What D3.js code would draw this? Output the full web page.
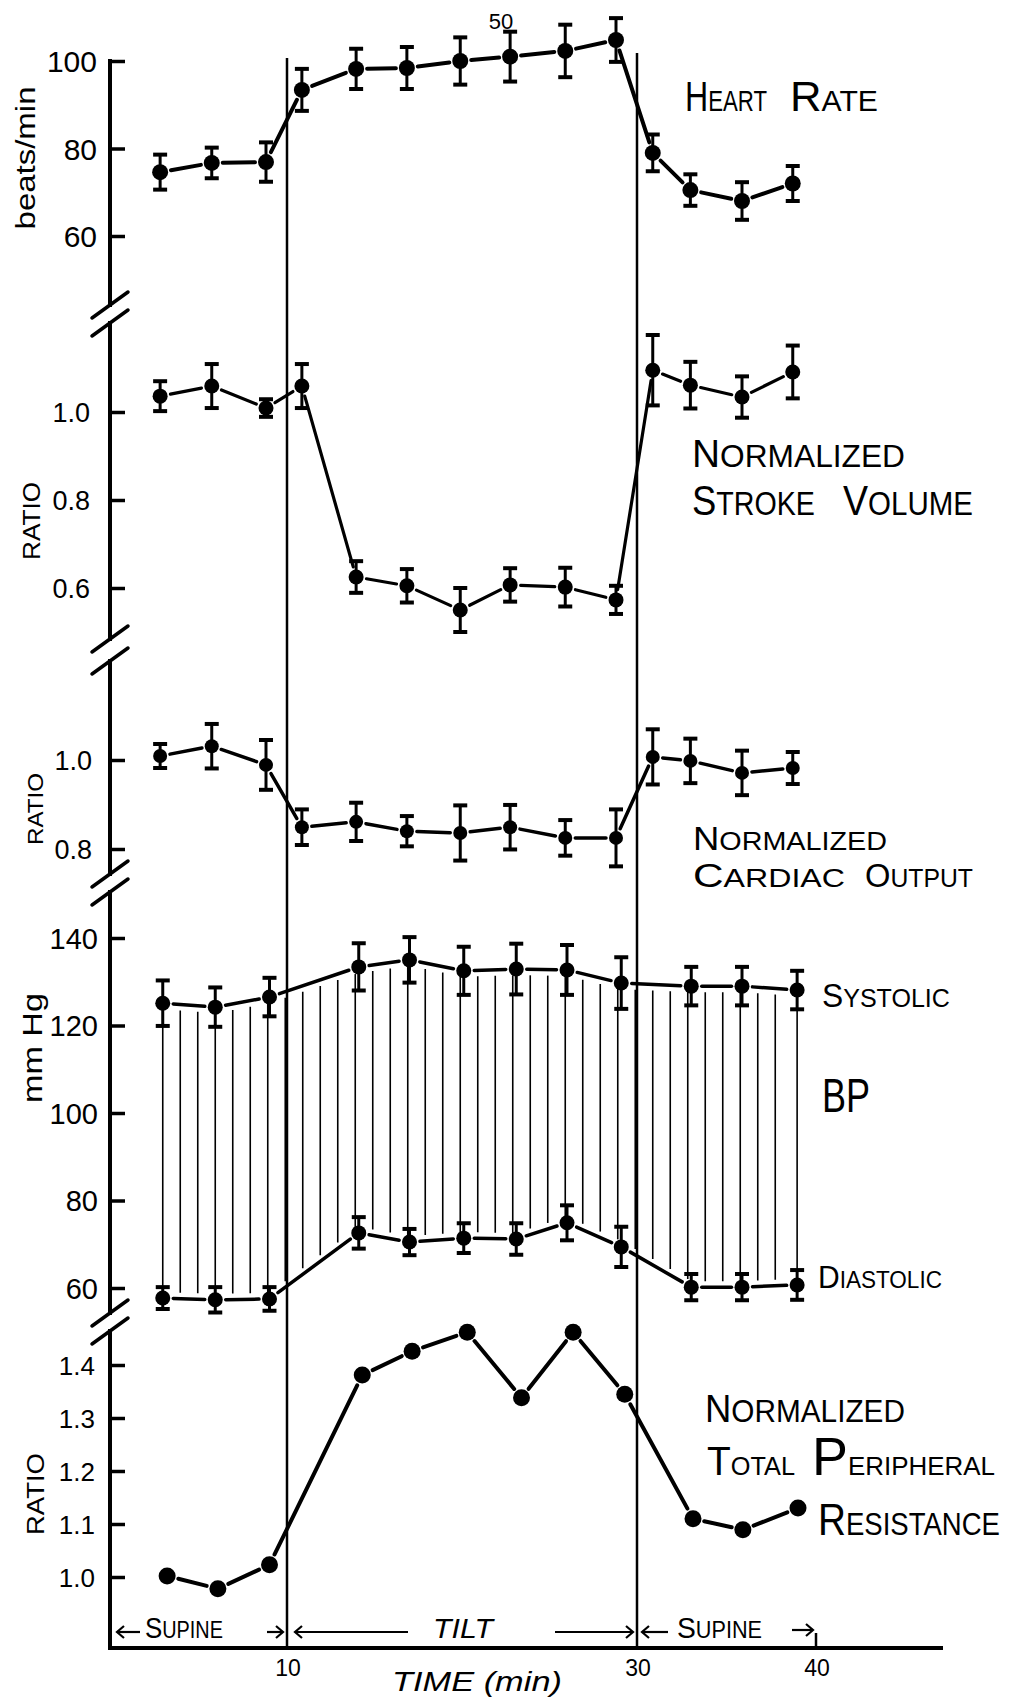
<!DOCTYPE html>
<html><head><meta charset="utf-8">
<script src="https://cdn.jsdelivr.net/npm/d3@7"></script>
<style>body{margin:0;background:#fff}svg{display:block}</style>
</head><body>
<svg id="c" width="1009" height="1697"></svg>
<script>
// ---------- DATA ----------
const timeA = [2.75,5.7,8.8,10.85,13.95,16.85,19.9,22.75,25.9,28.8,30.9,33.05,36.0,38.9];
const timeBP = [2.9,5.9,9.0,14.1,17.0,20.1,23.1,26.0,29.1,33.1,36.0,39.15];
const timeTPR = [3.15,6.05,9.0,14.3,17.15,20.3,23.4,26.35,29.3,33.2,36.05,39.2];

const hrMean = [74.6,76.7,76.9,93.4,98.2,98.4,100,101,102.3,104.8,79,70.5,68,72];
const hrErr  = [4.0,3.5,4.5,4.8,4.6,4.8,5.4,5.7,6.0,5.0,4.2,3.6,4.3,4.0];

const svMean = [1.036,1.059,1.009,1.059,0.625,0.605,0.55,0.607,0.602,0.573,1.095,1.061,1.034,1.091];
const svErr  = [0.034,0.05,0.02,0.05,0.036,0.038,0.05,0.038,0.044,0.032,0.08,0.053,0.047,0.06];

const coMean = [1.009,1.031,0.989,0.849,0.861,0.84,0.836,0.849,0.825,0.825,1.007,0.998,0.971,0.982];
const coErr  = [0.027,0.05,0.056,0.04,0.043,0.034,0.062,0.05,0.04,0.064,0.062,0.05,0.05,0.036];

const sysMean = [125.1,124.2,126.5,133.4,135.0,132.5,132.9,132.7,129.7,129.0,129.0,128.1];
const sysErr  = [5.2,4.5,4.4,5.4,5.2,5.5,5.8,5.7,5.9,4.4,4.4,4.4];
const diaMean = [57.7,57.3,57.5,72.6,70.5,71.4,71.2,74.9,69.4,60.2,60.2,60.7];
const diaErr  = [2.5,2.9,2.7,3.6,3.0,3.4,3.6,4.0,4.6,3.0,3.0,3.4];

const tprMean = [1.002,0.978,1.023,1.381,1.426,1.462,1.338,1.462,1.345,1.11,1.089,1.13];

const hrTicks = [60,80,100];
const svTicks = [0.6,0.8,1.0];
const coTicks = [0.8,1.0];
const bpTicks = [60,80,100,120,140];
const tprTicks = [1.0,1.1,1.2,1.3,1.4];
const xTickLabels = [10,30,40];
const tiltStart = 10, tiltEnd = 30;

// ---------- DRAWING ----------
const FONT = "'Liberation Sans', Arial, sans-serif";
const svg = d3.select('#c');
const x = d3.scaleLinear().domain([10,30]).range([287,637]);
const AX = 110, XAXIS_Y = 1648;

const hrY  = d3.scaleLinear().domain([60,100]).range([236,61]);
const svY  = d3.scaleLinear().domain([0.6,1.0]).range([588,412]);
const coY  = d3.scaleLinear().domain([0.8,1.0]).range([849,760]);
const bpY  = d3.scaleLinear().domain([60,140]).range([1288,938]);
const tprY = d3.scaleLinear().domain([1.0,1.4]).range([1577,1365]);

// breaks between panels
const breaks = [314,650,883,1322];
const brOff = [9,11,9,9];
const segs = [[61,breaks[0]-brOff[0]],[breaks[0]+brOff[0],breaks[1]-brOff[1]],[breaks[1]+brOff[1],breaks[2]-brOff[2]],[breaks[2]+brOff[2],breaks[3]-brOff[3]],[breaks[3]+brOff[3],XAXIS_Y]];
segs.forEach(s=>svg.append('line').attr('x1',AX).attr('x2',AX).attr('y1',s[0]).attr('y2',s[1])
  .attr('stroke','#000').attr('stroke-width',4).attr('stroke-linecap','square'));
breaks.forEach((b,i)=>{
  [-brOff[i],brOff[i]].forEach(o=>{
    svg.append('line').attr('x1',AX-18).attr('y1',b+o+13).attr('x2',AX+18).attr('y2',b+o-13)
      .attr('stroke','#000').attr('stroke-width',3.5).attr('stroke-linecap','round');
  });
});

// y axes (ticks inside, labels left)
function yAxis(scale, ticks, fmt, fs, pad){
  const g = svg.append('g').attr('transform',`translate(${AX},0)`)
    .call(d3.axisLeft(scale).tickValues(ticks).tickFormat(fmt).tickSizeInner(-15).tickSizeOuter(0).tickPadding(pad));
  g.select('.domain').remove();
  g.selectAll('.tick line').attr('stroke','#000').attr('stroke-width',3.5);
  g.selectAll('.tick text').attr('font-family',FONT).attr('font-size',fs).attr('fill','#000').attr('dy','0.36em');
}
yAxis(hrY, hrTicks, d3.format('d'), 30, 13);
yAxis(svY, svTicks, d3.format('.1f'), 27, 20);
yAxis(coY, coTicks, d3.format('.1f'), 27, 18);
yAxis(bpY, bpTicks, d3.format('d'), 29, 12);
yAxis(tprY, tprTicks, d3.format('.1f'), 26, 15);

// x axis
svg.append('line').attr('x1',AX).attr('x2',943).attr('y1',XAXIS_Y).attr('y2',XAXIS_Y)
  .attr('stroke','#000').attr('stroke-width',4);
svg.append('line').attr('x1',x(40)+4).attr('x2',x(40)+4).attr('y1',XAXIS_Y-15).attr('y2',XAXIS_Y)
  .attr('stroke','#000').attr('stroke-width',2.5);
svg.selectAll('text.xt').data(xTickLabels).enter().append('text').attr('class','xt')
  .attr('x',d=>x(d)+(d===40?5:1)).attr('y',1676).attr('text-anchor','middle')
  .attr('font-family',FONT).attr('font-size',23).attr('fill','#000').text(d=>d);

// stretched text helper: natural text placed in a group scaled horizontally to a target width
function fitText(str, x0, y0, fs, len, opts={}){
  const g = svg.append('g');
  const t = g.append('text').attr('x',0).attr('y',0).attr('font-family',FONT).attr('font-size',fs).attr('fill','#000').text(str);
  if(opts.italic) t.attr('font-style','italic');
  const w = t.node().getComputedTextLength();
  const k = len/w;
  g.attr('transform',`translate(${x0},${y0}) scale(${k},1)`);
  return g;
}
fitText('TIME (min)',392,1691,27,170,{italic:true});

// tilt lines
svg.append('line').attr('x1',x(tiltStart)).attr('x2',x(tiltStart)).attr('y1',58).attr('y2',XAXIS_Y)
  .attr('stroke','#000').attr('stroke-width',2.5);
svg.append('line').attr('x1',x(tiltEnd)).attr('x2',x(tiltEnd)).attr('y1',53).attr('y2',XAXIS_Y)
  .attr('stroke','#000').attr('stroke-width',2.5);

// BP hatching
function interp(ts, vs, t){
  const i = d3.bisectRight(ts,t);
  if(i<=0) return vs[0];
  if(i>=ts.length) return vs[ts.length-1];
  const a=(t-ts[i-1])/(ts[i]-ts[i-1]);
  return vs[i-1]+a*(vs[i]-vs[i-1]);
}
const hatchT = d3.range(timeBP[0], timeBP[timeBP.length-1]-0.3, 1).concat([timeBP[timeBP.length-1]]);
svg.append('g').selectAll('line').data(hatchT).enter().append('line')
  .attr('x1',d=>x(d)).attr('x2',d=>x(d))
  .attr('y1',d=>bpY(interp(timeBP,sysMean,d))+6)
  .attr('y2',d=>bpY(interp(timeBP,diaMean,d))-6)
  .attr('stroke','#000').attr('stroke-width',1.6);

// series
function series(ts, vs, es, yS, r, lw){
  const pts = ts.map((t,i)=>({x:x(t), y:yS(vs[i]), h: es ? Math.abs(yS(vs[i]+es[i])-yS(vs[i])) : 0}));
  const g = svg.append('g');
  g.selectAll('line.seg').data(d3.pairs(pts)).enter().append('line').attr('class','seg')
    .each(function([p,q]){
      const dx=q.x-p.x, dy=q.y-p.y, L=Math.hypot(dx,dy), gap=r+3;
      d3.select(this).attr('x1',p.x+dx*gap/L).attr('y1',p.y+dy*gap/L)
        .attr('x2',q.x-dx*gap/L).attr('y2',q.y-dy*gap/L);
    })
    .attr('stroke','#000').attr('stroke-width',lw).attr('stroke-linecap','round');
  if(es){
    const eb = g.selectAll('g.eb').data(pts).enter().append('g');
    eb.append('line').attr('x1',d=>d.x).attr('x2',d=>d.x)
      .attr('y1',d=>d.y-d.h).attr('y2',d=>d.y+d.h)
      .attr('stroke','#000').attr('stroke-width',3);
    [-1,1].forEach(s=>{
      eb.append('line').attr('x1',d=>d.x-7).attr('x2',d=>d.x+7)
        .attr('y1',d=>d.y+s*d.h).attr('y2',d=>d.y+s*d.h)
        .attr('stroke','#000').attr('stroke-width',4);
    });
  }
  g.selectAll('circle').data(pts).enter().append('circle')
    .attr('cx',d=>d.x).attr('cy',d=>d.y).attr('r',r).attr('fill','#000');
}
series(timeA, hrMean, hrErr, hrY, 8, 4);
series(timeA, svMean, svErr, svY, 7.5, 3.2);
series(timeA, coMean, coErr, coY, 7, 3.5);
series(timeBP, sysMean, sysErr, bpY, 7.5, 3.5);
series(timeBP, diaMean, diaErr, bpY, 7.5, 3.5);
series(timeTPR, tprMean, null, tprY, 8.5, 4);

// small-caps style word: each size run is its own text element, group scaled to target width
function caps(str, x0, y0, big, small, len){
  const g = svg.append('g');
  const runs=[];
  for(const ch of str){
    const isBig = ch!==ch.toLowerCase();
    const size = isBig?big:small;
    const c = ch.toUpperCase();
    if(runs.length && runs[runs.length-1].size===size) runs[runs.length-1].s+=c; else runs.push({size,s:c});
  }
  let cx = 0;
  runs.forEach(rn=>{
    const t = g.append('text').attr('x',cx).attr('y',0).attr('font-family',FONT)
      .attr('font-size',rn.size).attr('fill','#000').text(rn.s);
    cx += t.node().getComputedTextLength();
  });
  const k = len ? len/cx : 1;
  g.attr('transform',`translate(${x0},${y0}) scale(${k},1)`);
  return g;
}
caps('Heart',685,111,42,29,82);
caps('Rate',790,111,42,29,88);
caps('Normalized',692,467,38,31,213);
caps('Stroke',692,515,42,33,123);
caps('Volume',843,515,42,33,130);
caps('Normalized',693,850,33,26,194);
caps('Cardiac',693,887,33,25,152);
caps('Output',865,887,33,25,108);
caps('Systolic',822,1007,33,26,128);
caps('BP',822,1112,48,48,48);
caps('Diastolic',818,1288,32,24,124);
caps('Normalized',705,1422,38,31,200);
caps('Total',707,1475,40,26,88);
caps('Peripheral',812,1475,54,26,183);
caps('Resistance',818,1535,45,32,182);

// phase labels with arrows
function arrow(x1,x2,y){ // head at x2
  svg.append('line').attr('x1',x1).attr('x2',x2).attr('y1',y).attr('y2',y).attr('stroke','#000').attr('stroke-width',2.2);
  const d = x2>x1?-1:1;
  svg.append('path').attr('d',`M${x2+d*7},${y-6}L${x2},${y}L${x2+d*7},${y+6}`)
    .attr('fill','none').attr('stroke','#000').attr('stroke-width',2.2);
}
const PY = 1632;
arrow(140,117,PY);
caps('Supine',145,1638,30,23,78);
arrow(267,283,PY);
arrow(408,295,PY);
fitText('TILT',433,1638,27,60,{italic:true});
arrow(555,633,PY);
arrow(668,642,PY);
caps('Supine',677,1638,30,23,85);
arrow(792,813,PY-2);

// rotated axis titles
function rot(txt, cx, cy, fs, len){
  const g = svg.append('g');
  const t = g.append('text').attr('text-anchor','middle').attr('dominant-baseline','central')
    .attr('font-family',FONT).attr('font-size',fs).attr('fill','#000').text(txt);
  const w = t.node().getComputedTextLength();
  g.attr('transform',`translate(${cx},${cy}) rotate(-90) scale(${len/w},1)`);
}
rot('beats/min',25,158,28,143);
rot('RATIO',32,521,23,78);
rot('RATIO',35,809,22,72);
rot('mm Hg',33,1048,27,110);
rot('RATIO',36,1494,23,82);

// page number
svg.append('text').attr('x',501).attr('y',29).attr('text-anchor','middle').attr('font-family',FONT)
  .attr('font-size',22).text('50');
</script>
</body></html>
